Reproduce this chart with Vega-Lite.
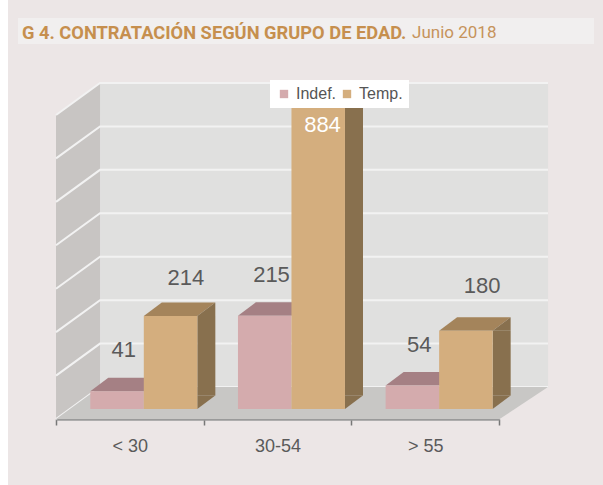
{"$schema":"https://vega.github.io/schema/vega-lite/v6.json","width":443,"height":304,"autosize":{"type":"none"},"padding":{"left":56,"top":115,"right":104,"bottom":66},"background":"#ECE6E6","title":{"text":"G 4. CONTRATACIÓN  SEGÚN GRUPO DE EDAD.","anchor":"start","frame":"group","font":"Roboto","fontSize":18.3,"fontWeight":"bold","color":"#C68F4E","dx":-34,"orient":"top","baseline":"alphabetic","offset":-57,"zindex":1},"datasets":{"bars":[{"group":"< 30","series":"Indef.","value":41},{"group":"< 30","series":"Temp.","value":214},{"group":"30-54","series":"Indef.","value":215},{"group":"30-54","series":"Temp.","value":884},{"group":"> 55","series":"Indef.","value":54},{"group":"> 55","series":"Temp.","value":180}],"anchor":[{"group":"< 30","value":0,"note":"Junio 2018"}],"grid":[{"group":"< 30","value":0},{"group":"< 30","value":100},{"group":"< 30","value":200},{"group":"< 30","value":300},{"group":"< 30","value":400},{"group":"< 30","value":500},{"group":"< 30","value":600},{"group":"< 30","value":700}]},"encoding":{"x":{"field":"group","type":"nominal","sort":null,"scale":{"domain":["< 30","30-54","> 55"],"paddingInner":0,"paddingOuter":0},"axis":{"title":null,"labelAngle":0,"tickBand":"extent","domainColor":"#9A9A9A","domainWidth":2.5,"tickColor":"#777777","tickWidth":1.5,"tickSize":6,"labelFont":"Liberation Sans","labelFontSize":18,"labelColor":"#5A5A5A","labelPadding":12}},"y":{"field":"value","type":"quantitative","scale":{"domain":[0,700],"clamp":true,"nice":false},"axis":null}},"layer":[{"data":{"name":"anchor"},"mark":{"type":"point","filled":true,"opacity":1,"strokeWidth":0,"size":4,"fill":"#FFFFFF","shape":"M-129.8 -419 L-121.8 -419 L-121.8 66 L-129.8 66Z"}},{"data":{"name":"anchor"},"mark":{"type":"point","filled":true,"opacity":1,"strokeWidth":0,"size":4,"fill":"#F1EFEF","shape":"M-111.8 -401 L464.2 -401 L464.2 -375 L-111.8 -375Z"}},{"data":{"name":"anchor"},"encoding":{"text":{"field":"note","type":"nominal"}},"mark":{"type":"text","font":"Roboto","fontSize":17,"fontWeight":"normal","fill":"#C6935B","align":"left","baseline":"alphabetic","xOffset":282.2,"yOffset":-381}},{"data":{"name":"anchor"},"mark":{"type":"point","filled":true,"opacity":1,"strokeWidth":0,"size":4,"fill":"#E0E0DF","shape":"M-29.8 -32 L418.2 -32 L418.2 -336 L-29.8 -336Z"}},{"data":{"name":"anchor"},"mark":{"type":"point","filled":true,"opacity":1,"strokeWidth":0,"size":4,"fill":"#C8C5C3","shape":"M-73.8 0 L-29.8 -32 L-29.8 -336 L-73.8 -304Z"}},{"data":{"name":"grid"},"mark":{"type":"point","filled":false,"opacity":1,"strokeWidth":2,"size":4,"stroke":"#F2F2F2","shape":"M-73.8 0 L-29.8 -32 L418.2 -32"}},{"data":{"name":"anchor"},"mark":{"type":"point","filled":true,"opacity":1,"strokeWidth":0,"size":4,"fill":"#C8C7C5","shape":"M-73.8 0 L-29.8 -32 L418.2 -32 L369.8 0Z"}},{"data":{"name":"bars"},"encoding":{"xOffset":{"field":"series","type":"nominal","scale":{"domain":["Indef.","Temp."],"range":[34.3,141.3],"paddingInner":0,"paddingOuter":0}},"color":{"condition":{"test":"datum.series=='Indef.'","value":"#A58084"},"value":"#A4845B"}},"mark":{"type":"point","filled":true,"opacity":1,"strokeWidth":0,"size":4,"shape":"M-26.75 -10 L-8.75 -23.5 L44.75 -23.5 L26.75 -10Z"}},{"data":{"name":"bars"},"transform":[{"filter":"datum.series=='Temp.'"}],"encoding":{"xOffset":{"field":"series","type":"nominal"}},"mark":{"type":"point","filled":true,"opacity":1,"strokeWidth":0,"size":4,"fill":"#88704E","shape":"M26.75 -10 L44.75 -23.5 L44.75 -10Z"}},{"data":{"name":"bars"},"transform":[{"filter":"datum.series=='Temp.'"}],"encoding":{"xOffset":{"field":"series","type":"nominal"},"y":{"datum":0,"type":"quantitative","axis":null}},"mark":{"type":"point","filled":true,"opacity":1,"strokeWidth":0,"size":4,"fill":"#88704E","shape":"M26.75 -10 L26.75 -23.5 L44.75 -23.5Z"}},{"data":{"name":"bars"},"transform":[{"filter":"datum.series=='Temp.'"}],"encoding":{"y2":{"datum":0}},"mark":{"type":"bar","size":18,"fill":"#88704E","xOffset":76.5,"yOffset":-10,"y2Offset":-23.5}},{"data":{"name":"bars"},"encoding":{"xOffset":{"field":"series","type":"nominal"},"color":{"field":"series","type":"nominal","scale":{"domain":["Indef.","Temp."],"range":["#D4ABAD","#D4AE7E"]},"legend":{"title":null,"orient":"none","legendX":214,"legendY":-35,"direction":"horizontal","fillColor":"#FFFFFF","padding":6,"symbolType":"square","symbolSize":70,"symbolStrokeWidth":0,"labelFont":"Liberation Sans","labelFontSize":16,"labelColor":"#555555","labelOffset":4,"columnPadding":2}}},"mark":{"type":"bar","yOffset":-10,"y2Offset":-10}},{"data":{"name":"bars"},"transform":[{"filter":"datum.series=='Indef.'"}],"encoding":{"text":{"field":"value","type":"quantitative"}},"mark":{"type":"text","font":"Liberation Sans","fontSize":22,"fill":"#5A5A5A","yOffset":-51,"xOffset":-6}},{"data":{"name":"bars"},"transform":[{"filter":"datum.value==214"}],"encoding":{"text":{"field":"value","type":"quantitative"}},"mark":{"type":"text","font":"Liberation Sans","fontSize":22,"fill":"#5A5A5A","yOffset":-48,"xOffset":56}},{"data":{"name":"bars"},"transform":[{"filter":"datum.value==180"}],"encoding":{"text":{"field":"value","type":"quantitative"}},"mark":{"type":"text","font":"Liberation Sans","fontSize":22,"fill":"#5A5A5A","yOffset":-55,"xOffset":57}},{"data":{"name":"bars"},"transform":[{"filter":"datum.value>700"}],"encoding":{"text":{"field":"value","type":"quantitative"}},"mark":{"type":"text","font":"Liberation Sans","fontSize":22,"fill":"#FFFFFF","yOffset":10,"xOffset":45}}]}
